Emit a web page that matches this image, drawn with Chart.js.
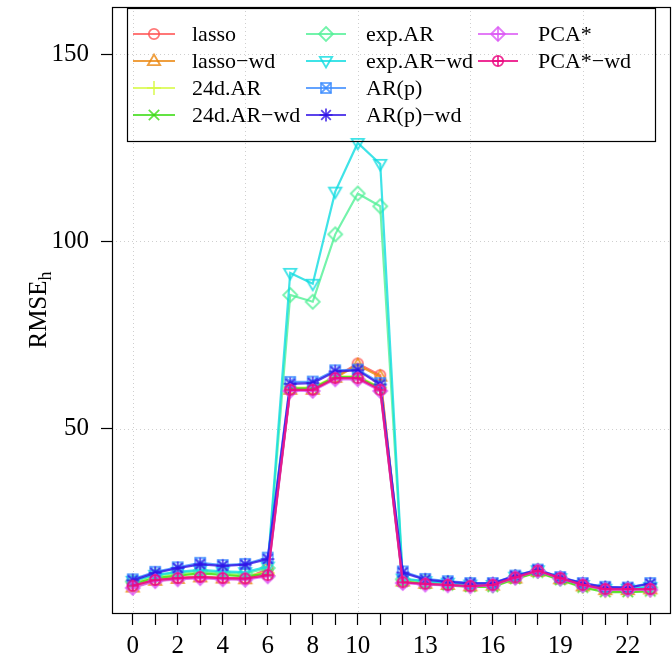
<!DOCTYPE html>
<html><head><meta charset="utf-8">
<script src="https://cdn.jsdelivr.net/npm/chart.js@4/dist/chart.umd.min.js"></script>
<style>html,body{margin:0;padding:0;background:#fff}</style>
</head><body>
<canvas id="c" width="672" height="664" style="width:672px;height:664px;display:block"></canvas>
<script>
// ---- data ----
const hours = [0,1,2,3,4,5,6,7,8,9,10,11,12,13,14,15,16,17,18,19,20,21,22,23];
const xTickLabels = [0,2,4,6,8,10,13,16,19,22];
const yTickValues = [50,100,150];
const seriesNames = ['lasso','lasso\u2212wd','24d.AR','24d.AR\u2212wd','exp.AR','exp.AR\u2212wd','AR(p)','AR(p)\u2212wd','PCA*','PCA*\u2212wd'];
const lasso      = [8.0,9.7,10.2,10.6,10.2,10.1,12.5,60.6,60.6,63.8,67.4,64.3,9.4,8.8,8.5,8.1,8.3,10.2,12.0,10.0,8.1,7.0,7.0,7.3];
const lassoWd    = [7.6,9.4,9.9,10.3,10.0,9.8,12.0,60.4,60.4,63.6,67.0,63.9,9.2,8.6,8.3,7.9,8.1,10.0,11.8,9.8,7.9,6.9,6.9,7.1];
const ar24d      = [8.8,10.3,11.0,11.6,11.2,10.8,11.5,61.0,61.0,64.0,64.0,61.0,9.4,8.8,8.4,8.0,8.0,10.1,11.8,9.8,7.8,6.6,6.6,6.8];
const ar24dWd    = [8.6,10.1,10.8,11.4,11.0,10.6,11.3,60.8,60.8,63.8,63.8,60.8,9.2,8.6,8.2,7.8,7.8,9.9,11.6,9.6,7.6,6.4,6.4,6.6];
const expAR      = [9.2,10.8,11.6,12.0,11.6,11.4,12.8,85.7,83.9,101.9,112.8,109.4,9.8,9.2,8.8,8.3,8.2,10.4,12.1,10.0,8.2,7.2,7.2,7.6];
const expARWd    = [9.4,11.0,11.8,12.3,11.9,11.7,13.2,91.6,88.7,113.3,126.3,120.7,10.0,9.3,8.9,8.4,8.3,10.5,12.2,10.1,8.3,7.3,7.3,7.8];
const arP        = [9.8,11.8,13.0,14.2,13.6,13.9,15.6,62.5,62.6,65.6,65.8,62.2,11.9,9.9,9.3,8.8,8.8,10.8,12.4,10.4,8.8,7.8,7.6,8.8];
const arPWd      = [9.5,11.5,12.8,13.8,13.4,13.7,15.2,62.0,62.2,65.3,65.6,61.8,11.6,9.7,9.1,8.7,8.7,10.7,12.3,10.3,8.7,7.7,7.6,8.6];
const pca        = [7.5,9.3,9.8,10.1,9.8,9.7,10.6,60.1,60.1,63.2,63.2,60.1,8.8,8.4,8.2,7.9,8.2,10.2,12.0,10.0,8.2,7.0,7.0,7.0];
const pcaWd      = [8.1,9.6,10.1,10.4,10.1,10.0,10.9,60.4,60.4,63.5,63.5,60.4,9.0,8.6,8.3,8.0,8.3,10.3,12.1,10.1,8.3,7.2,7.2,7.2];
const seriesValues = [lasso,lassoWd,ar24d,ar24dWd,expAR,expARWd,arP,arPWd,pca,pcaWd];

// ---- styles ----
const colors = ['rgba(255,85,85,0.8)','rgba(235,135,15,0.8)','rgba(215,250,70,0.8)','rgba(60,220,20,0.8)',
  'rgba(80,240,150,0.8)','rgba(15,220,225,0.8)','rgba(60,140,255,0.8)','rgba(50,20,230,0.8)',
  'rgba(220,90,245,0.8)','rgba(235,10,130,0.85)'];
const symbolKinds = ['circle','tri','plus','cross','diamond','dtri','sqx','ast','diaplus','cirplus'];

function makeSymbol(kind, color){
  const S = 20, c = S/2;
  const cv = document.createElement('canvas'); cv.width = S; cv.height = S;
  const g = cv.getContext('2d');
  g.strokeStyle = color; g.lineWidth = 1.8; g.lineJoin='miter';
  const line=(x1,y1,x2,y2)=>{g.beginPath();g.moveTo(c+x1,c+y1);g.lineTo(c+x2,c+y2);g.stroke();};
  const poly=(pts)=>{g.beginPath();pts.forEach((p,i)=>i?g.lineTo(c+p[0],c+p[1]):g.moveTo(c+p[0],c+p[1]));g.closePath();g.stroke();};
  switch(kind){
    case 'circle': g.beginPath(); g.arc(c,c,5.2,0,2*Math.PI); g.stroke(); break;
    case 'tri': poly([[0,-6.5],[6.2,4.2],[-6.2,4.2]]); break;
    case 'dtri': poly([[0,6.5],[6.2,-4.2],[-6.2,-4.2]]); break;
    case 'plus': line(-7,0,7,0); line(0,-7,0,7); break;
    case 'cross': line(-5.2,-5.2,5.2,5.2); line(-5.2,5.2,5.2,-5.2); break;
    case 'diamond': poly([[0,-7],[7,0],[0,7],[-7,0]]); break;
    case 'sqx': g.strokeRect(c-5,c-5,10,10); line(-5,-5,5,5); line(-5,5,5,-5); break;
    case 'ast': line(-6.5,0,6.5,0); line(0,-6.5,0,6.5); line(-4.8,-4.8,4.8,4.8); line(-4.8,4.8,4.8,-4.8); break;
    case 'diaplus': poly([[0,-7],[7,0],[0,7],[-7,0]]); line(-7,0,7,0); line(0,-7,0,7); break;
    case 'cirplus': g.beginPath(); g.arc(c,c,5.2,0,2*Math.PI); g.stroke(); line(-5.2,0,5.2,0); line(0,-5.2,0,5.2); break;
  }
  return cv;
}
const symbols = symbolKinds.map((k,i)=>makeSymbol(k, colors[i]));
const FONT = '"Liberation Serif", "Times New Roman", serif';

const datasets = seriesNames.map((name,i)=>({
  label: name,
  data: hours.map((h,j)=>({x:h, y:seriesValues[i][j]})),
  borderColor: colors[i], backgroundColor: colors[i],
  borderWidth: 2.2, pointStyle: symbols[i], pointRadius: 6,
  tension: 0, order: seriesNames.length - 1 - i
}));

const rPlugin = {
  id: 'rstyle',
  beforeDatasetsDraw(chart){
    const {ctx, chartArea:a, scales:{x,y}} = chart;
    ctx.save();
    ctx.strokeStyle = '#cfcfcf'; ctx.lineWidth = 1; ctx.setLineDash([1,3]);
    [0,5,10,15,20].forEach(v=>{const px=Math.round(x.getPixelForValue(v))+0.5;
      ctx.beginPath(); ctx.moveTo(px,a.top); ctx.lineTo(px,a.bottom); ctx.stroke();});
    yTickValues.forEach(v=>{const py=Math.round(y.getPixelForValue(v))+0.5;
      ctx.beginPath(); ctx.moveTo(a.left,py); ctx.lineTo(a.right,py); ctx.stroke();});
    ctx.restore();
  },
  afterDatasetsDraw(chart){
    const {ctx, chartArea:a} = chart;
    ctx.save();
    // plot box
    ctx.strokeStyle = '#000'; ctx.lineWidth = 1.2; ctx.setLineDash([]);
    ctx.strokeRect(Math.round(a.left)+0.5, Math.round(a.top)+0.5, Math.round(a.right-a.left)-1, Math.round(a.bottom-a.top));
    // legend box
    const L = {left:127, top:8, right:655, bottom:141};
    ctx.lineWidth = 1.2;
    ctx.strokeRect(L.left+0.5, L.top+0.5, L.right-L.left, L.bottom-L.top);
    const cols = [[133,175,192],[306,346,366],[478,518,538]];
    const rows = [34,61,88,115];
    ctx.font = '22px ' + FONT; ctx.textBaseline = 'middle'; ctx.textAlign='left';
    chart.data.datasets.forEach((ds,i)=>{
      const col = cols[Math.floor(i/4)], ry = rows[i%4];
      ctx.strokeStyle = ds.borderColor; ctx.lineWidth = 2.2;
      ctx.beginPath(); ctx.moveTo(col[0], ry); ctx.lineTo(col[1], ry); ctx.stroke();
      Chart.helpers.drawPoint(ctx, {pointStyle: ds.pointStyle, radius: 6, rotation: 0, borderWidth: 1}, (col[0]+col[1])/2, ry);
      ctx.fillStyle = '#000';
      ctx.fillText(ds.label, col[2], ry+1);
    });
    // y axis title with subscript
    ctx.translate(38, (a.top + a.bottom)/2);
    ctx.rotate(-Math.PI/2);
    ctx.fillStyle = '#000'; ctx.textBaseline='alphabetic';
    ctx.font = '25px ' + FONT; const w1 = ctx.measureText('RMSE').width;
    ctx.font = '18px ' + FONT; const w2 = ctx.measureText('h').width;
    const sx = -(w1+w2)/2;
    ctx.font = '25px ' + FONT; ctx.fillText('RMSE', sx, 8);
    ctx.font = '18px ' + FONT; ctx.fillText('h', sx + w1, 13);
    ctx.restore();
  }
};

new Chart(document.getElementById('c'), {
  type: 'line',
  data: { datasets },
  options: {
    responsive: false, animation: false, devicePixelRatio: 1,
    layout: { autoPadding: false, padding: { left: 0, top: 7, right: 1, bottom: 0 } },
    plugins: { legend: { display: false }, tooltip: { enabled: false } },
    scales: {
      x: {
        type: 'linear', min: -0.92, max: 23.92,
        afterBuildTicks: s => { s.ticks = hours.map(v=>({value:v})); },
        afterFit: s => { s.height = 51; s.paddingLeft = 0; s.paddingRight = 0; },
        grid: { drawOnChartArea: false, drawTicks: true, tickLength: 12, tickColor: '#000', tickWidth: 1.2 },
        border: { display: false },
        ticks: { autoSkip: false, maxRotation: 0, minRotation: 0, color: '#000', padding: 6,
          font: { family: FONT, size: 25 },
          callback: v => xTickLabels.includes(v) ? String(v) : '' }
      },
      y: {
        type: 'linear', min: 0.8, max: 162.6,
        afterBuildTicks: s => { s.ticks = yTickValues.map(v=>({value:v})); },
        afterFit: s => { s.width = 112; s.paddingTop = 0; s.paddingBottom = 0; },
        grid: { drawOnChartArea: false, drawTicks: true, tickLength: 11, tickColor: '#000', tickWidth: 1.2 },
        border: { display: false },
        ticks: { color: '#000', padding: 12, font: { family: FONT, size: 25 } }
      }
    }
  },
  plugins: [rPlugin]
});
</script>
</body></html>
